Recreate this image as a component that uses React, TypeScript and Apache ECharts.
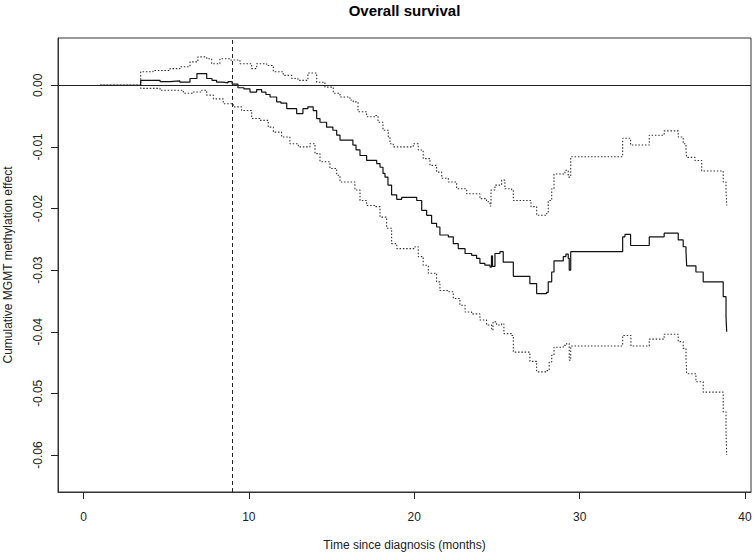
import React, { useEffect, useRef } from "react";
import * as echarts from "echarts";

const chartTitle = "Overall survival";
const xAxisName = "Time since diagnosis (months)";
const yAxisName = "Cumulative MGMT methylation effect";
const xTicks = [0, 10, 20, 30, 40];
const yTicks = [0, -0.01, -0.02, -0.03, -0.04, -0.05, -0.06];
const landmarkTime = 9;

// [months, effect] - step function (value holds until the next time)
const estimate: [number, number][] = [
  [1.0, 0], [3.46, 0.0008], [4.63, 0.0006], [5.23, 0.0007], [5.83, 0.0005], [6.44, 0.0011],
  [6.86, 0.0019], [7.45, 0.0011], [7.77, 0.0008], [8.05, 0.0005], [8.43, 0.0004], [8.74, 0.0006],
  [8.99, 0.0002], [9.34, -0.0004], [9.7, -0.0006], [10.07, -0.0011], [10.47, -0.0007], [10.77, -0.0011],
  [11.03, -0.0015], [11.28, -0.0019], [11.68, -0.0027], [11.94, -0.0029], [12.29, -0.0038], [12.89, -0.0046],
  [13.27, -0.0038], [13.57, -0.0035], [13.89, -0.0041], [14.1, -0.0054], [14.3, -0.006], [14.7, -0.0068],
  [15.08, -0.0073], [15.31, -0.0081], [15.51, -0.0089], [16.29, -0.0097], [16.48, -0.0105], [16.72, -0.0114],
  [17.12, -0.0122], [17.73, -0.0127], [17.93, -0.0133], [18.11, -0.0143], [18.23, -0.0149], [18.41, -0.0162],
  [18.63, -0.0178], [18.94, -0.0185], [19.24, -0.0182], [20.15, -0.0187], [20.45, -0.0203], [20.75, -0.0211],
  [21.05, -0.0224], [21.35, -0.023], [21.55, -0.0243], [22.06, -0.0246], [22.36, -0.0257], [22.66, -0.0265],
  [23.07, -0.0273], [23.47, -0.0276], [23.77, -0.0281], [23.97, -0.0289], [24.27, -0.0292], [24.58, -0.0295],
  [24.67, -0.0277], [24.73, -0.0294], [24.88, -0.0273], [25.18, -0.027], [25.38, -0.0287], [25.99, -0.031],
  [26.99, -0.0322], [27.4, -0.0338], [28.0, -0.0336], [28.1, -0.0319], [28.31, -0.0303], [28.45, -0.0285],
  [29.01, -0.0278], [29.17, -0.0274], [29.31, -0.0281], [29.37, -0.03], [29.46, -0.027], [32.6, -0.0246],
  [32.74, -0.0242], [33.08, -0.026], [34.21, -0.0246], [35.11, -0.024], [35.96, -0.0251], [36.26, -0.0262],
  [36.43, -0.027], [36.47, -0.0293], [37.03, -0.0303], [37.47, -0.0319], [38.68, -0.0343], [38.85, -0.0376],
  [38.89, -0.04],
];

const upperBand: [number, number][] = [
  [1.0, 0], [3.46, 0.0022], [4.2, 0.0024], [5.23, 0.0027], [5.83, 0.003], [6.44, 0.0038],
  [6.92, 0.0046], [7.45, 0.0043], [7.75, 0.0035], [8.25, 0.0043], [8.86, 0.0041], [9.46, 0.0035],
  [10.17, 0.0027], [10.47, 0.0035], [11.08, 0.0032], [11.48, 0.0022], [12.08, 0.0016], [12.59, 0.0011],
  [12.97, 0.0008], [13.57, 0.002], [14.1, 0.0005], [14.6, -0.0003], [15.1, -0.0013], [15.51, -0.0019],
  [16.11, -0.0024], [16.31, -0.0027], [16.6, -0.0043], [17.12, -0.0051], [17.62, -0.0049], [17.81, -0.006],
  [18.11, -0.0073], [18.43, -0.0084], [18.53, -0.0095], [18.73, -0.01], [19.94, -0.0095], [20.24, -0.0105],
  [20.54, -0.0119], [20.95, -0.013], [21.35, -0.0141], [21.66, -0.0151], [22.06, -0.0157], [22.56, -0.0168],
  [23.17, -0.0176], [23.97, -0.0184], [24.37, -0.0189], [24.58, -0.0196], [24.64, -0.017], [24.88, -0.0162],
  [25.28, -0.0154], [25.48, -0.0168], [25.89, -0.017], [25.99, -0.0187], [27.06, -0.0197], [27.4, -0.0211],
  [28.0, -0.0208], [28.1, -0.0187], [28.31, -0.0168], [28.45, -0.0144], [29.11, -0.0138], [29.31, -0.0149],
  [29.46, -0.0116], [32.6, -0.0086], [33.08, -0.0097], [34.21, -0.0081], [35.11, -0.0074], [35.96, -0.0084],
  [36.26, -0.0095], [36.43, -0.0105], [36.47, -0.0117], [36.97, -0.0122], [37.38, -0.0139], [38.68, -0.0157],
  [38.85, -0.017], [38.89, -0.0195],
];

const lowerBand: [number, number][] = [
  [1.0, 0], [3.46, -0.0005], [4.63, -0.0008], [6.04, -0.0013], [6.64, -0.0011], [7.15, -0.0008],
  [7.45, -0.0016], [7.85, -0.0022], [8.45, -0.003], [9.06, -0.0035], [9.56, -0.0041], [10.17, -0.0054],
  [10.67, -0.0057], [11.17, -0.0068], [11.48, -0.0076], [11.98, -0.0084], [12.48, -0.0095], [12.99, -0.01],
  [13.69, -0.0095], [14.0, -0.0111], [14.3, -0.0124], [14.9, -0.0135], [15.31, -0.0146], [15.51, -0.0157],
  [16.41, -0.017], [16.72, -0.0187], [17.12, -0.0195], [17.62, -0.0197], [17.93, -0.0214], [18.33, -0.0232],
  [18.63, -0.0257], [18.94, -0.0265], [20.04, -0.0262], [20.24, -0.0278], [20.54, -0.0292], [20.85, -0.0305],
  [21.35, -0.0319], [21.55, -0.0333], [22.06, -0.0335], [22.36, -0.0346], [22.76, -0.0357], [23.07, -0.0368],
  [23.47, -0.0371], [23.97, -0.0381], [24.37, -0.0389], [24.68, -0.0397], [24.76, -0.0384], [24.98, -0.0389],
  [25.28, -0.0387], [25.42, -0.0403], [25.89, -0.0406], [25.99, -0.0433], [26.99, -0.0448], [27.4, -0.0465],
  [28.0, -0.0463], [28.16, -0.0449], [28.31, -0.0438], [28.45, -0.0425], [29.01, -0.0422], [29.21, -0.0419],
  [29.37, -0.0446], [29.46, -0.0423], [32.6, -0.0406], [33.1, -0.0423], [34.21, -0.0412], [35.11, -0.0404],
  [35.96, -0.0416], [36.26, -0.0427], [36.43, -0.0441], [36.47, -0.0468], [37.03, -0.0481], [37.47, -0.0498],
  [38.68, -0.053], [38.85, -0.0565], [38.89, -0.06],
];

const FONT = "Liberation Sans, Arial, sans-serif";

export default function App() {
  const ref = useRef<HTMLDivElement>(null);
  useEffect(() => {
    if (!ref.current) return;
    const chart = echarts.init(ref.current, null, { renderer: "svg" });
    const left = 58, right = 751, top = 38, bottom = 492;
    chart.setOption({
      animation: false,
      backgroundColor: "#ffffff",
      textStyle: { fontFamily: FONT },
      title: {
        text: chartTitle,
        left: (left + right) / 2,
        top: 3,
        padding: 0,
        textAlign: "center",
        textStyle: { fontFamily: FONT, fontWeight: "bold", fontSize: 15, color: "#000" },
      },
      grid: {
        left,
        top,
        right: 755 - right,
        bottom: 553 - bottom,
        show: true,
        borderColor: "#333",
        borderWidth: 1,
        containLabel: false,
        outerBoundsMode: "none",
      },
      xAxis: {
        type: "value",
        min: -1.54,
        max: 40.36,
        name: xAxisName,
        nameLocation: "middle",
        nameGap: 47,
        nameTextStyle: { fontFamily: FONT, fontSize: 12, color: "#222" },
        axisLine: { show: true, onZero: false, lineStyle: { color: "#333", width: 1 } },
        splitLine: { show: false },
        axisTick: { show: true, inside: false, length: 7, lineStyle: { color: "#222", width: 1 }, customValues: xTicks },
        axisLabel: { customValues: xTicks, fontFamily: FONT, fontSize: 12, color: "#222", margin: 19 },
      },
      yAxis: {
        type: "value",
        min: -0.066,
        max: 0.00767,
        name: yAxisName,
        nameLocation: "middle",
        nameGap: 44,
        nameTextStyle: { fontFamily: FONT, fontSize: 12, color: "#222" },
        axisLine: { show: true, onZero: false, lineStyle: { color: "#333", width: 1 } },
        splitLine: { show: false },
        axisTick: { show: true, inside: false, length: 7, lineStyle: { color: "#222", width: 1 }, customValues: yTicks },
        axisLabel: {
          customValues: yTicks,
          rotate: 90,
          fontFamily: FONT,
          fontSize: 12,
          color: "#222",
          margin: 14,
          formatter: (v: number) => v.toFixed(2),
        },
      },
      series: [
        {
          type: "line",
          name: "upper",
          data: upperBand,
          step: "end",
          symbol: "none",
          lineStyle: { color: "#333", width: 1.1, type: [1.5, 1.8] },
        },
        {
          type: "line",
          name: "lower",
          data: lowerBand,
          step: "end",
          symbol: "none",
          lineStyle: { color: "#333", width: 1.1, type: [1.5, 1.8] },
        },
        {
          type: "line",
          name: "estimate",
          data: estimate,
          step: "end",
          symbol: "none",
          lineStyle: { color: "#111", width: 1.2 },
          markLine: {
            silent: true,
            symbol: ["none", "none"],
            label: { show: false },
            data: [
              { yAxis: 0, lineStyle: { color: "#222", width: 1, type: "solid" } },
              { xAxis: landmarkTime, lineStyle: { color: "#222", width: 1, type: [4, 3] } },
            ],
          },
        },
      ],
    });
    return () => chart.dispose();
  }, []);
  return (
    <div
      ref={ref}
      style={{ position: "fixed", left: 0, top: 0, width: 755, height: 553, background: "#fff" }}
    />
  );
}
